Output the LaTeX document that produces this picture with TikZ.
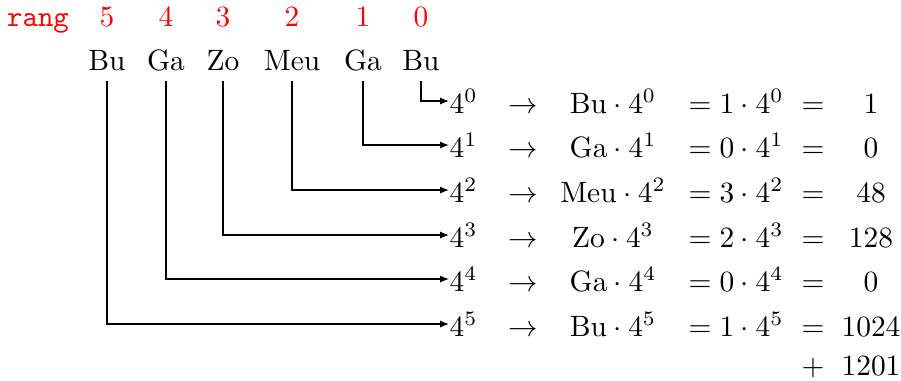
\documentclass[tikz,border=0pt]{standalone}
\usetikzlibrary{arrows.meta}
\begin{document}
\begin{tikzpicture}[x=0.34pt,y=-0.34pt,
  word/.style={inner xsep=0pt,inner ysep=3.4pt,anchor=base},
  rk/.style={text=red,inner sep=0pt,anchor=base},
  cell/.style={inner sep=0pt,anchor=base},
  pw/.style={inner sep=0pt,anchor=base west},
  conn/.style={line width=0.45pt,-{Latex[length=3pt,width=2.4pt]}}]
\useasboundingbox (0,0) rectangle (901,380);
% rank labels
\node[rk] (rang) at (38,26) {\texttt{rang}};
\node[rk] (r5) at (107,26) {5};
\node[rk] (r4) at (166,26) {4};
\node[rk] (r3) at (223,26) {3};
\node[rk] (r2) at (292,26) {2};
\node[rk] (r1) at (363,26) {1};
\node[rk] (r0) at (421,26) {0};
% words
\node[word] (w5) at (107,70) {Bu};
\node[word] (w4) at (166,70) {Ga};
\node[word] (w3) at (223,70) {Zo};
\node[word] (w2) at (292,70) {Meu};
\node[word] (w1) at (363,70) {Ga};
\node[word] (w0) at (421,70) {Bu};
% rows
\foreach \k/\b/\w/\d/\v in {0/113/Bu/1/1, 1/157/Ga/0/0, 2/202/Meu/3/48, 3/247/Zo/2/128, 4/291/Ga/0/0, 5/336/Bu/1/1024}{
  \node[pw] (p\k) at (449,\b) {$4^{\k}$};
  \node[cell] (a\k) at (523,\b) {$\rightarrow$};
  \node[cell] (m\k) at (613,\b) {$\mathrm{\w}\cdot 4^{\k}$};
  \node[cell,anchor=base west] (e\k) at (688,\b) {$=\d\cdot 4^{\k}$};
  \node[cell] (q\k) at (813,\b) {$=$};
  \node[cell] (v\k) at (871,\b) {$\v$};
}
\node[cell] (plus) at (813,375) {$+$};
\node[cell] (sum) at (871,375) {$1201$};
% connectors
\foreach \k in {0,...,5}{
  \draw[conn] (w\k.south) |- (p\k.west);
}
\end{tikzpicture}
\end{document}
